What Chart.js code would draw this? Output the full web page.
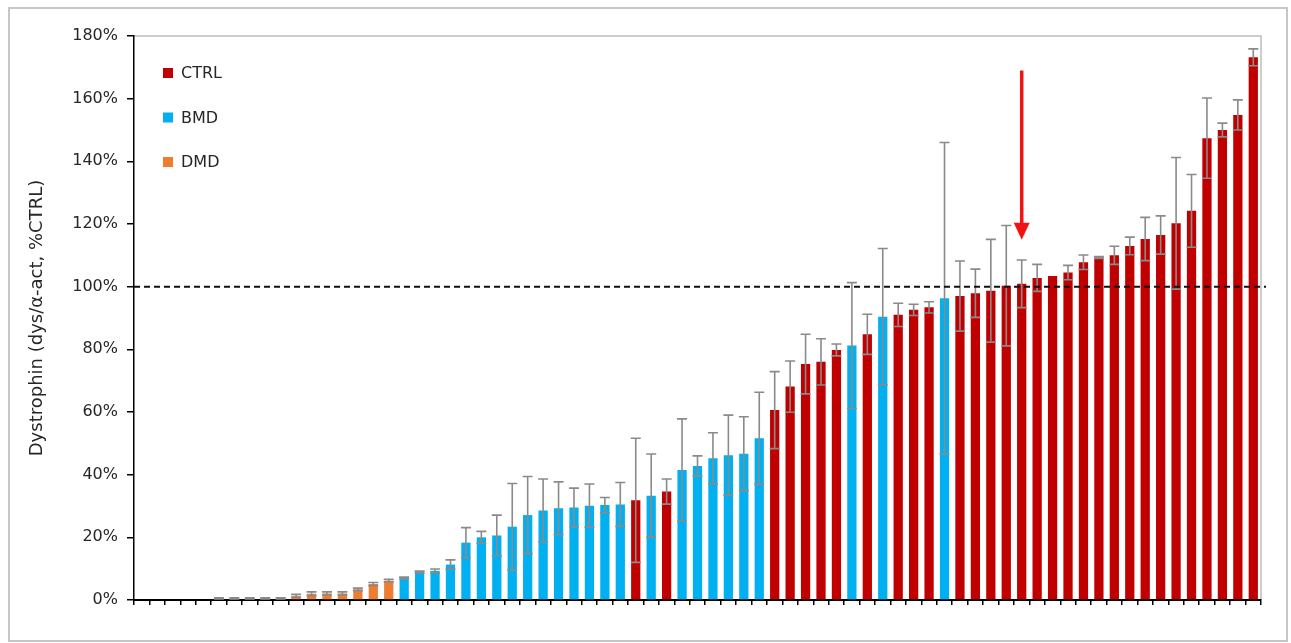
<!DOCTYPE html>
<html>
<head>
<meta charset="utf-8">
<title>Dystrophin quantification</title>
<script src="https://cdn.jsdelivr.net/npm/chart.js@4.4.1/dist/chart.umd.min.js"></script>
<style>
  html, body { margin: 0; padding: 0; background: #fff; }
  #wrap { position: relative; width: 1291px; height: 643px; }
</style>
</head>
<body>
<div id="wrap"><canvas id="chart"></canvas></div>
<script>
// Groups shown in the legend, in legend order
const groupNames = ['CTRL', 'BMD', 'DMD'];
const groupColors = ['#C00000', '#00B0F0', '#ED7D31'];

// Group of each sample, samples sorted by dystrophin level
const groups = [
  'DMD','DMD','DMD','DMD','DMD','DMD','DMD','DMD','DMD','DMD',
  'DMD','DMD','DMD','DMD','DMD','DMD','DMD',
  'BMD','BMD','BMD','BMD','BMD','BMD','BMD','BMD','BMD','BMD',
  'BMD','BMD','BMD','BMD','BMD',
  'CTRL','BMD','CTRL',
  'BMD','BMD','BMD','BMD','BMD','BMD',
  'CTRL','CTRL','CTRL','CTRL','CTRL',
  'BMD','CTRL','BMD','CTRL','CTRL','CTRL','BMD',
  'CTRL','CTRL','CTRL','CTRL','CTRL','CTRL','CTRL','CTRL','CTRL','CTRL',
  'CTRL','CTRL','CTRL','CTRL','CTRL','CTRL','CTRL','CTRL','CTRL','CTRL'
];

// Dystrophin (dys/α-act) as % of the control mean
const values = [
  0, 0, 0, 0, 0, 0.5, 0.5, 0.5, 0.5, 0.5,
  1.3, 2.0, 2.1, 2.1, 3.4, 5.1, 6.2,
  7.0, 8.9, 9.3, 11.3, 18.3, 20.0, 20.6, 23.4, 27.1, 28.6,
  29.3, 29.5, 30.1, 30.3, 30.5,
  31.8, 33.3, 34.6,
  41.5, 42.8, 45.2, 46.2, 46.7, 51.6,
  60.6, 68.1, 75.3, 76.0, 79.8,
  81.2, 84.8, 90.4, 91.0, 92.6, 93.4, 96.3,
  97.0, 97.9, 98.7, 100.3, 100.9, 102.8, 103.4, 104.5, 107.8, 109.3,
  110.0, 113.0, 115.2, 116.5, 120.2, 124.2, 147.4, 150.0, 154.8, 173.2
];

// Standard deviation of each sample, same units
const errors = [
  0, 0, 0, 0, 0, 0.2, 0.2, 0.2, 0.2, 0.2,
  0.5, 0.6, 0.5, 0.5, 0.4, 0.5, 0.4,
  0.3, 0.3, 0.6, 1.5, 4.8, 1.9, 6.5, 13.8, 12.3, 10.0,
  8.4, 6.2, 6.9, 2.4, 7.0,
  19.8, 13.3, 4.0,
  16.3, 3.2, 8.2, 12.8, 11.8, 14.7,
  12.3, 8.2, 9.5, 7.4, 1.9,
  20.1, 6.4, 21.8, 3.7, 1.8, 1.8, 49.7,
  11.2, 7.7, 16.4, 19.2, 7.6, 4.3, 0, 2.3, 2.3, 0.3,
  2.9, 2.8, 6.9, 6.1, 21.0, 11.6, 12.8, 2.2, 4.8, 2.7
];

// Value axis
const yMin = 0;
const yMax = 180;
const yStep = 20;

// Control reference level (dashed line)
const referenceLevel = 100;

// Highlighted sample (red arrow), arrow drawn from/to these levels
const arrowSample = 57;
const arrowFrom = 169;
const arrowTo = 115;

const sampleLabels = values.map((_, i) => 'S' + (i + 1));

const datasets = groupNames.map((name, g) => ({
  label: name,
  data: values.map((v, i) => (groups[i] === name ? v : null)),
  backgroundColor: groupColors[g],
  borderWidth: 0,
  categoryPercentage: 1.0,
  barPercentage: 0.6
}));

const TEXT = '#262626';
const FONT = 'DejaVu Sans';

const framePlugin = {
  id: 'frame',
  beforeDraw(chart) {
    const { ctx, chartArea: a } = chart;
    ctx.save();
    ctx.fillStyle = '#ffffff';
    ctx.fillRect(0, 0, chart.width, chart.height);
    ctx.strokeStyle = '#c6c6c6';
    ctx.lineWidth = 2;
    ctx.strokeRect(9, 8, chart.width - 13, chart.height - 10);
    // plot area outline (top and right edges)
    ctx.strokeStyle = '#bdbdbd';
    ctx.lineWidth = 1.5;
    ctx.beginPath();
    ctx.moveTo(a.left, a.top);
    ctx.lineTo(a.right, a.top);
    ctx.lineTo(a.right, a.bottom);
    ctx.stroke();
    ctx.restore();
  }
};

const errorBarPlugin = {
  id: 'errorBars',
  afterDatasetsDraw(chart) {
    const { ctx } = chart;
    const xs = chart.scales.x, ys = chart.scales.y;
    ctx.save();
    ctx.strokeStyle = '#8a8a8a';
    ctx.lineWidth = 1.6;
    const half = 5;
    values.forEach((v, i) => {
      const e = errors[i];
      if (!e) return;
      const x = xs.getPixelForValue(i);
      const yt = ys.getPixelForValue(v + e);
      const yb = ys.getPixelForValue(Math.max(v - e, 0));
      ctx.beginPath();
      ctx.moveTo(x, yt); ctx.lineTo(x, yb);
      ctx.moveTo(x - half, yt); ctx.lineTo(x + half, yt);
      ctx.moveTo(x - half, yb); ctx.lineTo(x + half, yb);
      ctx.stroke();
    });
    ctx.restore();
  }
};

const annotationPlugin = {
  id: 'annotations',
  afterDatasetsDraw(chart) {
    const { ctx, chartArea: a } = chart;
    const xs = chart.scales.x, ys = chart.scales.y;
    ctx.save();
    // reference line
    const yRef = ys.getPixelForValue(referenceLevel);
    ctx.strokeStyle = '#111111';
    ctx.lineWidth = 2;
    ctx.setLineDash([6, 4]);
    ctx.beginPath();
    ctx.moveTo(a.left, yRef);
    ctx.lineTo(a.right + 5, yRef);
    ctx.stroke();
    ctx.setLineDash([]);
    // arrow pointing at the highlighted sample
    const ax = xs.getPixelForValue(arrowSample);
    const y0 = ys.getPixelForValue(arrowFrom);
    const y1 = ys.getPixelForValue(arrowTo);
    const headH = 17, headW = 8;
    ctx.strokeStyle = '#F01414';
    ctx.fillStyle = '#F01414';
    ctx.lineWidth = 3.5;
    ctx.beginPath();
    ctx.moveTo(ax, y0);
    ctx.lineTo(ax, y1 - headH + 2);
    ctx.stroke();
    ctx.beginPath();
    ctx.moveTo(ax - headW, y1 - headH);
    ctx.lineTo(ax + headW, y1 - headH);
    ctx.lineTo(ax, y1);
    ctx.closePath();
    ctx.fill();
    ctx.restore();
  }
};

const legendPlugin = {
  id: 'insetLegend',
  afterDraw(chart) {
    const { ctx, chartArea: a } = chart;
    ctx.save();
    ctx.font = '16px "' + FONT + '"';
    ctx.textBaseline = 'middle';
    ctx.textAlign = 'left';
    chart.data.datasets.forEach((ds, k) => {
      const cy = a.top + 37 + k * 44.5;
      const sx = a.left + 29;
      ctx.fillStyle = ds.backgroundColor;
      ctx.fillRect(sx, cy - 5, 10, 10);
      ctx.fillStyle = TEXT;
      ctx.fillText(ds.label, sx + 18, cy + 1);
    });
    ctx.restore();
  }
};

new Chart(document.getElementById('chart'), {
  type: 'bar',
  data: { labels: sampleLabels, datasets },
  options: {
    responsive: true,
    maintainAspectRatio: false,
    animation: false,
    events: [],
    layout: { padding: { left: 0, right: 30, top: 36, bottom: 0 } },
    plugins: {
      legend: { display: false },
      tooltip: { enabled: false }
    },
    scales: {
      x: {
        stacked: true,
        offset: true,
        grid: {
          offset: true,
          drawOnChartArea: false,
          drawTicks: true,
          tickLength: 5,
          color: '#000',
          lineWidth: 1.5
        },
        border: { display: true, color: '#000', width: 2 },
        ticks: { display: false, autoSkip: false },
        afterFit(scale) { scale.height = 43; }
      },
      y: {
        stacked: false,
        min: yMin,
        max: yMax,
        grid: {
          drawOnChartArea: false,
          drawTicks: true,
          tickLength: 7,
          color: '#000',
          lineWidth: 1.5
        },
        border: { display: true, color: '#000', width: 1.5 },
        ticks: {
          stepSize: yStep,
          padding: 9,
          color: TEXT,
          font: { family: FONT, size: 16 },
          callback: (v) => v + '%'
        },
        title: {
          display: true,
          text: 'Dystrophin (dys/α-act, %CTRL)',
          color: TEXT,
          font: { family: FONT, size: 18 },
          padding: { top: 27, bottom: 0 }
        },
        afterFit(scale) { scale.width = 134; }
      }
    }
  },
  plugins: [framePlugin, errorBarPlugin, annotationPlugin, legendPlugin]
});
</script>
</body>
</html>
